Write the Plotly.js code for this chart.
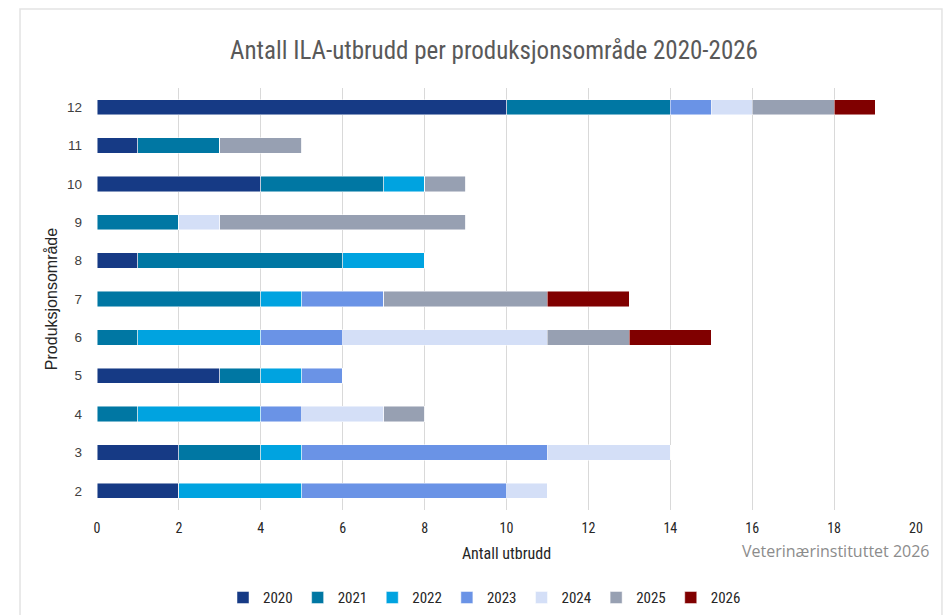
<!DOCTYPE html>
<html>
<head>
<meta charset="utf-8">
<script src="https://cdn.plot.ly/plotly-3.0.1.min.js"></script>
<style>html,body{margin:0;padding:0;background:#fff;}#chart{width:950px;height:615px;}</style>
</head>
<body>
<div id="chart"></div>
<script>
const areas = ['2','3','4','5','6','7','8','9','10','11','12'];
const years = ['2020','2021','2022','2023','2024','2025','2026'];
const colors = ['#163A85','#0077A3','#00A3E0','#6A93E6','#D4DFF7','#97A0B2','#800000'];
// values per year, ordered as areas 2..12
const v2020 = [2,2,0,3,0,0,1,0,4,1,10];
const v2021 = [0,2,1,1,1,4,5,2,3,2,4];
const v2022 = [3,1,3,1,3,1,2,0,1,0,0];
const v2023 = [5,6,1,1,2,2,0,0,0,0,1];
const v2024 = [1,3,2,0,5,0,0,1,0,0,1];
const v2025 = [0,0,1,0,2,4,0,6,1,2,2];
const v2026 = [0,0,0,0,2,2,0,0,0,0,1];
const series = [v2020,v2021,v2022,v2023,v2024,v2025,v2026];

const narrow = '"Liberation Sans Narrow", "Roboto Condensed", Roboto, Arial, sans-serif';
const traces = years.map((yr,i)=>({
  type:'bar', orientation:'h', name:yr, y:areas, x:series[i],
  marker:{color:colors[i], line:{color:'rgba(255,255,255,0.6)', width:0.8}},
  hoverinfo:'x+name'
}));

const layout = {
  width:950, height:615,
  paper_bgcolor:'#fff', plot_bgcolor:'#fff',
  margin:{l:97, r:34, t:88, b:105, autoexpand:false},
  barmode:'stack', bargap:0.6,
  title:{text:'Antall ILA-utbrudd per produksjonsområde 2020-2026', font:{family:narrow, size:25, color:'#595959'}, x:0.52, xref:'container', xanchor:'center', y:0.918, yref:'container', yanchor:'middle'},
  xaxis:{range:[0,20], dtick:2, tick0:0, showgrid:true, gridcolor:'#d9d9d9', gridwidth:1, zeroline:false, showline:false, ticks:'',
    tickfont:{family:narrow, size:14, color:'#262626'}, ticklabelstandoff:8,
    title:{text:'Antall utbrudd', font:{family:narrow, size:16, color:'#262626'}, standoff:12}},
  yaxis:{type:'category', categoryorder:'array', categoryarray:areas, showgrid:false, zeroline:false, showline:false, ticks:'',
    tickfont:{family:'Liberation Sans, Arial, sans-serif', size:13.5, color:'#404040'}, ticklabelstandoff:14,
    title:{text:'Produksjonsområde', font:{family:'Liberation Sans, Arial, sans-serif', size:16, color:'#262626'}, standoff:5}},
  legend:{orientation:'h', x:0.51, xref:'container', xanchor:'center', y:0.028, yref:'container', yanchor:'middle', traceorder:'normal',
    font:{family:narrow, size:15, color:'#262626'}, itemwidth:30, tracegroupgap:0},
  shapes:[{type:'rect', xref:'paper', yref:'paper', x0:-0.094, x1:1.0317, y0:-0.4, y1:1.187, line:{color:'#e3e3e3', width:1.5}, fillcolor:'rgba(0,0,0,0)', layer:'below'}],
  annotations:[{text:'Veterinærinstituttet 2026', xref:'paper', yref:'paper', x:1.02, xanchor:'right', y:-0.097, yanchor:'middle', showarrow:false,
    font:{family:'"Open Sans", "Noto Sans", sans-serif', size:16, color:'#8c8c8c'}}],
  showlegend:true
};
Plotly.newPlot('chart', traces, layout, {displayModeBar:false, staticPlot:true});
</script>
</body>
</html>
